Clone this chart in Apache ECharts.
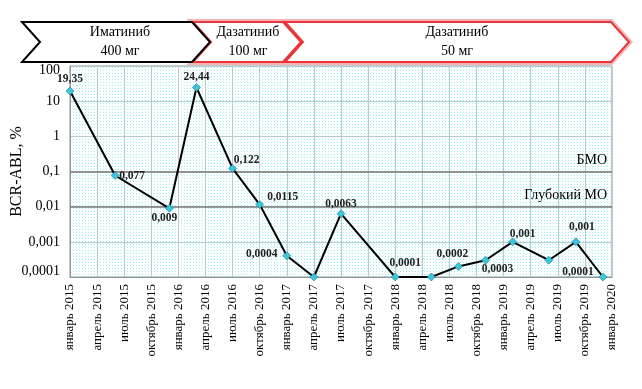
<!DOCTYPE html>
<html>
<head>
<meta charset="utf-8">
<script src="https://cdn.jsdelivr.net/npm/echarts@6/dist/echarts.min.js"></script>
<style>
html,body{margin:0;padding:0;background:#fff;}
#c{width:642px;height:389px;}
</style>
</head>
<body>
<div id="c"></div>
<script>
// ---- data ----
var xTickLabels = ['январь 2015','апрель 2015','июль 2015','октябрь 2015',
  'январь 2016','апрель 2016','июль 2016','октябрь 2016',
  'январь 2017','апрель 2017','июль 2017','октябрь 2017',
  'январь 2018','апрель 2018','июль 2018','октябрь 2018',
  'январь 2019','апрель 2019','июль 2019','октябрь 2019','январь 2020'];
var yTickLabels = ['0,0001','0,001','0,01','0,1','1','10','100'];
var pointMonths = ['2015-01','2015-06','2015-12','2016-03','2016-07','2016-10',
  '2017-01','2017-04','2017-07','2018-01','2018-05','2018-08','2018-11',
  '2019-02','2019-06','2019-09','2019-12'];
var bcrAbl = [19.35,0.077,0.009,24.44,0.122,0.0115,0.0004,0.0001,0.0063,
  0.0001,0.0001,0.0002,0.0003,0.001,0.0003,0.001,0.0001];
var pointLabels = ['19,35','0,077','0,009','24,44','0,122','0,0115','0,0004','',
  '0,0063','0,0001','','0,0002','0,0003','0,001','','0,001','0,0001'];
var thresholds = [0.1, 0.01];
var thresholdNames = ['БМО', 'Глубокий МО'];
var therapyNames = ['Иматиниб\n400 мг', 'Дазатиниб\n100 мг', 'Дазатиниб\n50 мг'];

// ---- layout (not data) ----
var labelOffsets = [[0,-12],[17,1],[-5,10],[0,-10],[14,-8],[23,-8],[-25,-2],[0,0],
  [0,-10],[10,-14],[0,0],[-6,-12],[12,9],[10,-8],[0,0],[6,-15],[-25,-5]];

function monthIndex(s){ var p=s.split('-'); return (parseInt(p[0])-2015)*12 + parseInt(p[1]) - 1; }

var serif = '"Liberation Serif","Times New Roman",serif';

// dotted cyan background pattern
var pc = document.createElement('canvas'); pc.width = 3; pc.height = 3;
var pctx = pc.getContext('2d');
pctx.fillStyle = '#ffffff'; pctx.fillRect(0,0,3,3);
pctx.fillStyle = '#9ceef6'; pctx.fillRect(1,1,1,1);
pctx.fillStyle = '#e6fafc'; pctx.fillRect(0,0,1,1);

var seriesData = bcrAbl.map(function(v,i){
  var d = { value: [monthIndex(pointMonths[i]), v] };
  if (pointLabels[i]) {
    d.label = { show: true, position: 'inside', offset: labelOffsets[i], formatter: pointLabels[i] };
  }
  return d;
});

var chart = echarts.init(document.getElementById('c'), null, {renderer:'canvas'});

function chevron(x0, x1, notch, tip, y0, y1){
  var ym = (y0+y1)/2;
  return [[x0,y0],[x1,y0],[x1+tip,ym],[x1,y1],[x0,y1],[x0+notch,ym]];
}

var banners = [
  {x0:22, x1:192, red:false, cx:120},
  {x0:193, x1:283, red:true, cx:248},
  {x0:285, x1:611, red:true, cx:457}
];
var graphics = [];
[2,1,0].forEach(function(i){
  var b = banners[i];
  var pts = chevron(b.x0, b.x1, 18, 18, 22, 62);
  if (b.red) {
    graphics.push({type:'polygon', shape:{points:pts}, style:{fill:'#fff', stroke:'#f6b3b3', lineWidth:6}, z:10});
    graphics.push({type:'polygon', shape:{points:pts}, style:{fill:'#fff', stroke:'#e8343a', lineWidth:2}, z:11});
  } else {
    graphics.push({type:'polygon', shape:{points:pts}, style:{fill:'#fff', stroke:'#000', lineWidth:2}, z:12});
  }
});
banners.forEach(function(b,i){
  graphics.push({type:'text', x:b.cx, y:42, z:20, style:{text:therapyNames[i], fill:'#000',
    font:'14px ' + serif, align:'center', verticalAlign:'middle', lineHeight:19}});
});

chart.setOption({
  animation:false,
  backgroundColor:'#ffffff',
  grid:{left:70, right:30, top:66, bottom:112, show:true, outerBoundsMode:'none', containLabel:false,
    backgroundColor:{image:pc, repeat:'repeat'}, borderColor:'#8a9898', borderWidth:1},
  graphic: graphics,
  xAxis:{
    type:'value', min:0, max:60, interval:3,
    axisLine:{show:true, lineStyle:{color:'#8a9898'}},
    axisTick:{show:false},
    splitLine:{show:true, lineStyle:{color:'#b8cace', width:1}},
    axisLabel:{rotate:90, margin:7, fontFamily:serif, fontSize:13, color:'#000',
      formatter:function(v){ return xTickLabels[Math.round(v/3)] || ''; }}
  },
  yAxis:{
    type:'log', logBase:10, min:0.0001, max:100,
    name:'BCR-ABL, %', nameLocation:'middle', nameGap:45, nameRotate:90, nameMoveOverlap:false,
    nameTextStyle:{fontFamily:serif, fontSize:16, color:'#000'},
    axisLine:{show:true, lineStyle:{color:'#8a9898'}},
    axisTick:{show:false},
    splitLine:{show:true, lineStyle:{color:'#b8cace', width:1}},
    axisLabel:{margin:10, fontFamily:serif, fontSize:14, color:'#000',
      rich:{top:{fontFamily:serif, fontSize:14, color:'#000', padding:[8,0,0,0]},
            bot:{fontFamily:serif, fontSize:14, color:'#000', padding:[0,0,11,0]}},
      formatter:function(v){
        var k = Math.round(Math.log10(v))+4;
        var t = yTickLabels[k] || '';
        if (k === 6) return '{top|' + t + '}';
        if (k === 0) return '{bot|' + t + '}';
        return t;
      }}
  },
  series:[{
    type:'line', data:seriesData,
    symbol:'diamond', symbolSize:8,
    lineStyle:{color:'#000', width:2},
    itemStyle:{color:'#3cc6dc', borderColor:'#1d7788', borderWidth:0.6},
    label:{show:false, fontFamily:serif, fontSize:11.5, fontWeight:'bold', color:'#222'},
    z:5,
    markLine:{
      silent:true, symbol:'none',
      lineStyle:{color:'#7a7a7a', width:1.5, type:'solid'},
      label:{position:'insideEndTop', fontFamily:serif, fontSize:14, color:'#000', distance:[5,4]},
      data: thresholds.map(function(t,i){ return {yAxis:t, label:{formatter:thresholdNames[i]}}; })
    }
  }]
});
</script>
</body>
</html>
